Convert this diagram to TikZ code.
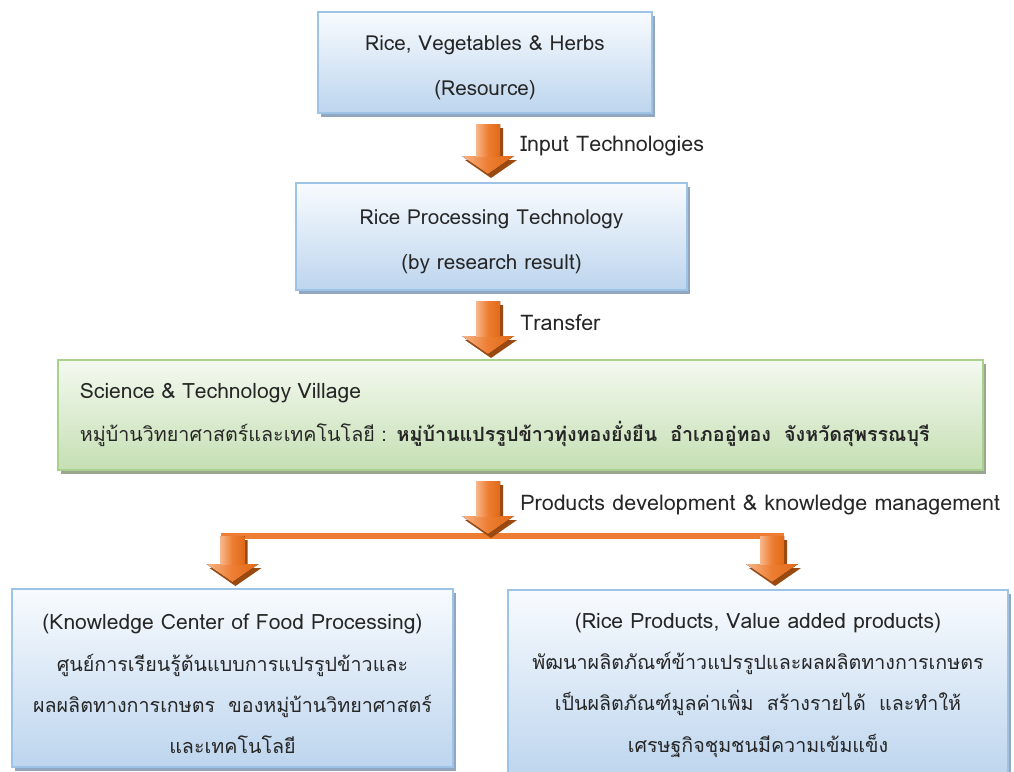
\documentclass[tikz,border=0pt]{standalone}
\usepackage{fontspec}
\setmainfont[Script=Thai]{Loma}
\usepackage{tikz}
\usetikzlibrary{positioning}
\usetikzlibrary{calc}
\usetikzlibrary{shadows}
\usepackage{xcolor}

\definecolor{textgray}{HTML}{262626}
\definecolor{bluetop}{HTML}{F8FBFE}
\definecolor{bluebot}{HTML}{BDD5EE}
\definecolor{blueedge}{HTML}{9DC3E6}
\definecolor{blueshadow}{HTML}{93A6BF}
\definecolor{greentop}{HTML}{F4F9F0}
\definecolor{greenbot}{HTML}{C5DFB3}
\definecolor{greenedge}{HTML}{A9D18E}
\definecolor{greenshadow}{HTML}{9AA68E}
\definecolor{arrowlight}{HTML}{F8B68A}
\definecolor{arrowmid}{HTML}{ED7D31}
\definecolor{arrowdark}{HTML}{E06A18}
\definecolor{arrowshadow}{HTML}{9A4A10}

% latin text is set a bit larger than thai
\newcommand{\lat}{\fontsize{15}{29.4}\selectfont}

% block arrow outline: start, tip, x-offset, y-offset (px)
\newcommand{\arrowpath}[4]{($(#1)+(#3-12,#4)$) -- ($(#2)+(#3-12,#4-18)$) -- ($(#2)+(#3-26,#4-18)$) -- ($(#2)+(#3,#4)$) -- ($(#2)+(#3+26,#4-18)$) -- ($(#2)+(#3+12,#4-18)$) -- ($(#1)+(#3+12,#4)$) -- cycle}
\newcommand{\fatarrow}[2]{%
\fill[arrowshadow] \arrowpath{#1}{#2}{3}{4};
\fill[left color=arrowlight, right color=arrowdark, middle color=arrowmid] \arrowpath{#1}{#2}{0}{0};
\fill[left color=arrowlight, right color=arrowdark, middle color=arrowmid] ($(#1)+(-12,0)$) rectangle ($(#2)+(12,-18)$);
}

\begin{document}
\begin{tikzpicture}[x=0.025cm, y=-0.025cm,
bluebox/.style={draw=blueedge, line width=1.4pt, top color=bluetop, bottom color=bluebot,
  general shadow={fill=blueshadow, shadow xshift=2.2pt, shadow yshift=-2.8pt},
  align=center, text=textgray, inner sep=0pt},
greenbox/.style={draw=greenedge, line width=1.4pt, top color=greentop, bottom color=greenbot,
  general shadow={fill=greenshadow, shadow xshift=2.2pt, shadow yshift=-2.8pt},
  align=left, text=textgray, inner sep=0pt},
lbl/.style={font=\fontsize{15.3}{17}\selectfont, text=textgray, inner sep=0pt, anchor=west}]

\useasboundingbox (0,0) rectangle (1014,771);
\clip (0,0) rectangle (1014,771);

\node[bluebox, minimum width=8.35cm, minimum height=2.525cm, font=\fontsize{14.7}{32.6}\selectfont]
  (res) at (485,62.5) {\rule{0pt}{18pt}Rice, Vegetables \& Herbs\\(Resource)};

\node[bluebox, minimum width=9.775cm, minimum height=2.675cm, font=\fontsize{14.7}{32.6}\selectfont]
  (proc) at (491.5,236.5) {\rule{0pt}{18pt}Rice Processing Technology\\(by research result)};

\node[greenbox, minimum width=23.125cm, minimum height=2.75cm, text width=22.025cm, font=\fontsize{14}{30.5}\selectfont]
  (vil) at (520.5,415) {{\fontsize{15}{30.5}\selectfont Science \& Technology Village}\\
  หมู่บ้านวิทยาศาสตร์และเทคโนโลยี : \textbf{หมู่บ้านแปรรูปข้าวทุ่งทองยั่งยืน~~อำเภออู่ทอง~~จังหวัดสุพรรณบุรี}};

\node[bluebox, minimum width=11.025cm, minimum height=4.45cm] (kc) at (232.5,678) {};
\node[align=center, text=textgray, inner sep=0pt, font=\fontsize{14}{29.4}\selectfont]
  (kct) at ($(kc.center)+(0,6)$) {{\lat (Knowledge Center of Food Processing)}\\
  ศูนย์การเรียนรู้ต้นแบบการแปรรูปข้าวและ\\
  ผลผลิตทางการเกษตร~~ของหมู่บ้านวิทยาศาสตร์\\
  และเทคโนโลยี};

\node[bluebox, minimum width=12.5cm, minimum height=4.7cm] (rp) at (758,684) {};
\node[align=center, text=textgray, inner sep=0pt, font=\fontsize{14}{29.4}\selectfont]
  (rpt) at ($(kct.center -| rp.center)+(0,1)$) {{\lat (Rice Products, Value added products)}\\
  พัฒนาผลิตภัณฑ์ข้าวแปรรูปและผลผลิตทางการเกษตร\\
  เป็นผลิตภัณฑ์มูลค่าเพิ่ม~~สร้างรายได้~~และทำให้\\
  เศรษฐกิจชุมชนมีความเข้มแข็ง};

% arrows between the boxes
\coordinate (a1s) at ($(res.south)+(3,10)$);
\coordinate (a1e) at ($(a1s |- proc.north)+(0,-8)$);
\coordinate (a2s) at ($(proc.south)+(-3.5,10)$);
\coordinate (a2e) at ($(a2s |- vil.north)+(0,-5)$);
\coordinate (a3s) at ($(vil.south -| a2s)+(0,10)$);
\coordinate (bar) at ($(vil.south -| a2s)+(0,65)$);
\coordinate (a3e) at ($(bar)+(0,-2)$);
\coordinate (bl) at (bar -| kc.north);
\coordinate (br) at ($(bar -| rp.north)+(14,0)$);
\coordinate (ble) at ($(bl |- kc.north)+(0,-6)$);
\coordinate (bre) at ($(br |- rp.north)+(0,-7)$);

\fatarrow{a1s}{a1e}
\fatarrow{a2s}{a2e}
\draw[arrowmid, line width=0.15cm] ($(bl)+(-12,0)$) -- ($(br)+(12,0)$);
\fatarrow{a3s}{a3e}
\fatarrow{bl}{ble}
\fatarrow{br}{bre}

\node[lbl] (lin) at ($(a1s)!0.45!(a1e)+(32,0)$) {Input Technologies};
\node[lbl] (ltr) at ($(a2s)!0.4!(a2e)+(32,0)$) {Transfer};
\node[lbl] (lpd) at ($(a3s)!0.45!(a3e)+(32,0)$) {Products development \& knowledge management};

\end{tikzpicture}
\end{document}
